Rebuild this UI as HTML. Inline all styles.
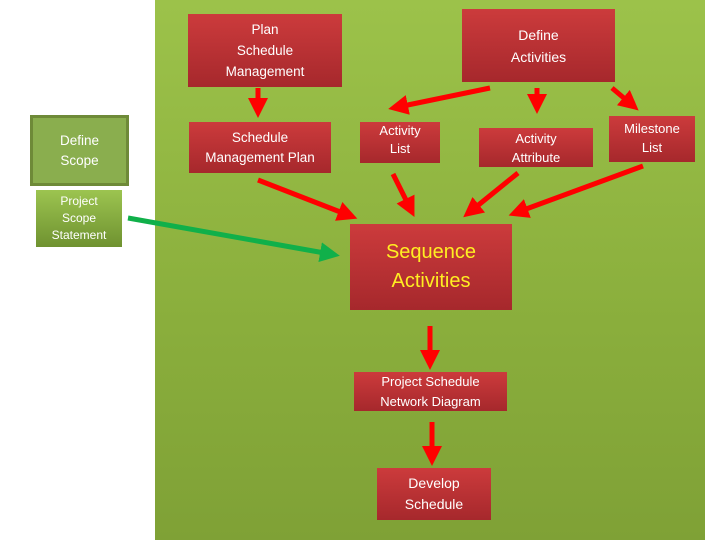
<!DOCTYPE html>
<html><head><meta charset="utf-8"><style>
html,body{margin:0;padding:0;}
body{width:720px;height:540px;position:relative;overflow:hidden;background:#fff;font-family:"Liberation Sans",sans-serif;}
.g{position:absolute;left:155px;top:0;width:550px;height:540px;background:linear-gradient(#9cc24a,#8aae3c 60%,#7fa136);}
.b{position:absolute;display:flex;align-items:center;justify-content:center;text-align:center;color:#fff;font-size:13.5px;line-height:20px;background:linear-gradient(#cc3b3c,#a6282c);box-sizing:border-box;}
.gr{background:linear-gradient(#9cc450,#6f9230);font-size:12px;line-height:17px;}
</style></head><body>
<div class="g"></div>
<div class="b" style="left:188px;top:14px;width:154px;height:73px;line-height:21px">Plan<br>Schedule<br>Management</div>
<div class="b" style="left:462px;top:9px;width:153px;height:73px;font-size:14px;line-height:22px">Define<br>Activities</div>
<div class="b" style="left:189px;top:122px;width:142px;height:51px">Schedule<br>Management Plan</div>
<div class="b" style="left:360px;top:122px;width:80px;height:41px;font-size:13px;line-height:18px;align-items:flex-start">Activity<br>List</div>
<div class="b" style="left:479px;top:128px;width:114px;height:39px;font-size:13px;line-height:19px">Activity<br>Attribute</div>
<div class="b" style="left:609px;top:116px;width:86px;height:46px;font-size:13px;line-height:19px;align-items:flex-start;padding-top:3px">Milestone<br>List</div>
<div class="b" style="left:30px;top:115px;width:99px;height:71px;background:#8aae4e;border:3px solid #6e8a38;font-size:13.5px">Define<br>Scope</div>
<div class="b gr" style="left:36px;top:190px;width:86px;height:57px">Project<br>Scope<br>Statement</div>
<div class="b" style="left:350px;top:224px;width:162px;height:86px;color:#ffee22;font-size:20px;line-height:29px">Sequence<br>Activities</div>
<div class="b" style="left:354px;top:372px;width:153px;height:39px;font-size:13px">Project Schedule<br>Network Diagram</div>
<div class="b" style="left:377px;top:468px;width:114px;height:52px;font-size:14px;line-height:21px">Develop<br>Schedule</div>
<svg width="720" height="540" style="position:absolute;left:0;top:0">
<defs>
<marker id="r" markerWidth="4" markerHeight="4" refX="2" refY="2" orient="auto" markerUnits="strokeWidth"><path d="M0,0 L4,2 L0,4 Z" fill="#f00"/></marker>
<marker id="gm" markerWidth="4" markerHeight="4" refX="2" refY="2" orient="auto" markerUnits="strokeWidth"><path d="M0,0 L4,2 L0,4 Z" fill="#10b04a"/></marker>
</defs>
<g stroke="#f00" stroke-width="5" marker-end="url(#r)">
<line x1="258" y1="88" x2="258" y2="108"/>
<line x1="537" y1="88" x2="537" y2="104"/>
<line x1="490" y1="88" x2="398" y2="107"/>
<line x1="612" y1="88" x2="631" y2="104"/>
<line x1="258" y1="180" x2="348" y2="215"/>
<line x1="393" y1="174" x2="410" y2="208"/>
<line x1="518" y1="173" x2="471" y2="211"/>
<line x1="643" y1="166" x2="518" y2="212"/>
<line x1="430" y1="326" x2="430" y2="360"/>
<line x1="432" y1="422" x2="432" y2="456"/>
</g>
<line x1="128" y1="218" x2="330" y2="254" stroke="#10b04a" stroke-width="5" marker-end="url(#gm)"/>
</svg>
</body></html>
